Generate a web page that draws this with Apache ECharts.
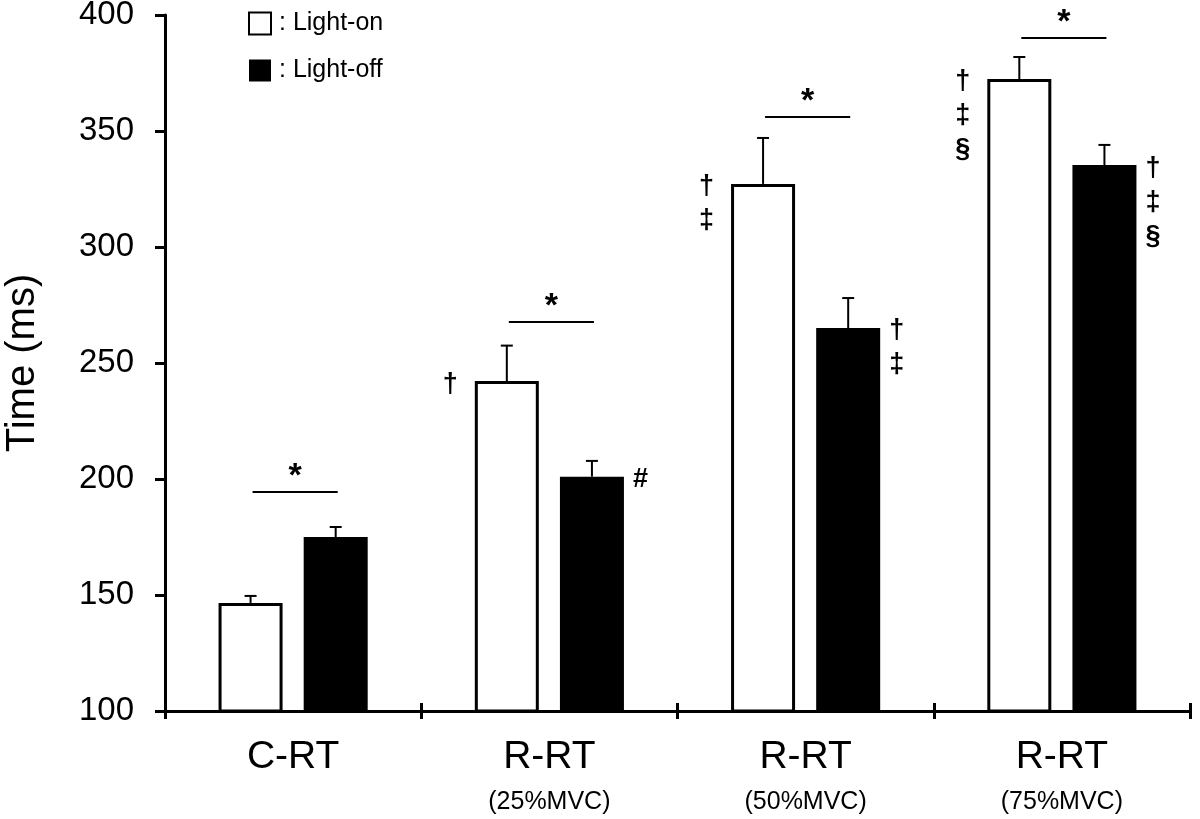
<!DOCTYPE html>
<html>
<head>
<meta charset="utf-8">
<script src="https://cdn.jsdelivr.net/npm/echarts@6/dist/echarts.min.js"></script>
<style>html,body{margin:0;padding:0;background:#fff;}#c{width:1200px;height:819px;}</style>
</head>
<body>
<div id="c"></div>
<script>
// ---- data ----
const categories = ['C-RT', 'R-RT\n(25%MVC)', 'R-RT\n(50%MVC)', 'R-RT\n(75%MVC)'];
const seriesNames = ['Light-on', 'Light-off'];
const lightOn = [146.6, 242.2, 327.2, 372.4];
const lightOnErr = [3.0, 15.3, 19.8, 9.5];
const lightOff = [175.0, 201.0, 265.1, 335.3];
const lightOffErr = [4.3, 6.8, 12.9, 8.7];
const sigLevel = [194.4, 267.7, 356.0, 390.1];
const sigText = ['*', '*', '*', '*'];
// marks: [categoryIndex, seriesIndex(0=on,1=off), text]
const marks = [
  [1, 0, '†'],
  [1, 1, '#'],
  [2, 0, '†\n‡'],
  [2, 1, '†\n‡'],
  [3, 0, '†\n‡\n§'],
  [3, 1, '†\n‡\n§']
];
const yTicks = [100, 150, 200, 250, 300, 350, 400];

// ---- layout ----
const FONT = '"Liberation Sans", Arial, sans-serif';
const BAR_W = 64, BAR_GAP = 0.33;
const OFF = BAR_W * (1 + BAR_GAP) / 2;

const chart = echarts.init(document.getElementById('c'));

const errData = [];
lightOn.forEach((v, i) => errData.push([i, v, lightOnErr[i], -1]));
lightOff.forEach((v, i) => errData.push([i, v, lightOffErr[i], 1]));

const markData = marks.map(m => {
  const v = m[1] === 0 ? lightOn[m[0]] : lightOff[m[0]];
  return [m[0], v, m[1]];
});

const option = {
  animation: false,
  backgroundColor: '#fff',
  textStyle: { fontFamily: FONT },
  grid: { left: 165, right: 10, top: 15, bottom: 108, containLabel: false, outerBoundsMode: 'none' },
  legend: {
    orient: 'vertical',
    left: 243, top: 6,
    itemWidth: 22, itemHeight: 22, itemGap: 22,
    formatter: ': {name}',
    textStyle: { fontSize: 25, color: '#000', fontFamily: FONT, padding: [0, 0, 0, 3] },
    selectedMode: false,
    data: [
      { name: 'Light-on', icon: 'rect', itemStyle: { color: '#fff', borderColor: '#000', borderWidth: 2 } },
      { name: 'Light-off', icon: 'rect', itemStyle: { color: '#000', borderColor: '#000', borderWidth: 0 } }
    ]
  },
  xAxis: [{
    type: 'category',
    data: categories,
    axisLine: { lineStyle: { color: '#000', width: 3 } },
    axisTick: { show: true, alignWithLabel: false, length: 8, lineStyle: { color: '#000', width: 3 } },
    axisLabel: {
      margin: 24,
      formatter: function (val) {
        const p = val.split('\n');
        return p.length > 1 ? '{a|' + p[0] + '}\n{b|' + p[1] + '}' : '{a|' + p[0] + '}';
      },
      rich: {
        a: { fontSize: 39, lineHeight: 44, color: '#000', fontFamily: FONT },
        b: { fontSize: 25, lineHeight: 46, color: '#000', fontFamily: FONT }
      }
    },
    splitLine: { show: false }
  }, {
    type: 'category',
    data: categories,
    position: 'bottom',
    axisLine: { show: false },
    axisTick: { show: true, inside: true, alignWithLabel: false, length: 8, lineStyle: { color: '#000', width: 3 } },
    axisLabel: { show: false },
    splitLine: { show: false }
  }],
  yAxis: {
    type: 'value',
    min: 100, max: 400, interval: 50,
    name: 'Time (ms)',
    nameLocation: 'middle',
    nameGap: 122,
    nameTextStyle: { fontSize: 40, color: '#000', fontFamily: FONT },
    axisLine: { show: true, lineStyle: { color: '#000', width: 3 } },
    axisTick: { show: true, length: 10, lineStyle: { color: '#000', width: 3 } },
    axisLabel: { fontSize: 33, color: '#000', margin: 31, fontFamily: FONT,
      formatter: v => yTicks.includes(v) ? String(v) : '' },
    splitLine: { show: false }
  },
  series: [
    {
      name: seriesNames[0], type: 'bar', data: lightOn,
      barWidth: BAR_W, barGap: (BAR_GAP * 100) + '%',
      itemStyle: { color: '#fff', borderColor: '#000', borderWidth: 3 }
    },
    {
      name: seriesNames[1], type: 'bar', data: lightOff,
      barWidth: BAR_W, barGap: (BAR_GAP * 100) + '%',
      itemStyle: { color: '#000', borderColor: '#000', borderWidth: 3 }
    },
    {
      type: 'custom', name: 'err', data: errData, z: 3,
      renderItem: function (params, api) {
        const b = api.coord([api.value(0), api.value(1)]);
        const t = api.coord([api.value(0), api.value(1) + api.value(2)]);
        const x = b[0] + api.value(3) * OFF;
        return { type: 'group', children: [
          { type: 'line', shape: { x1: x, y1: b[1], x2: x, y2: t[1] }, style: { stroke: '#000', lineWidth: 2 } },
          { type: 'line', shape: { x1: x - 6, y1: t[1], x2: x + 6, y2: t[1] }, style: { stroke: '#000', lineWidth: 2 } }
        ] };
      }
    },
    {
      type: 'custom', name: 'sig', z: 3,
      data: sigLevel.map((v, i) => [i, v]),
      renderItem: function (params, api) {
        const p = api.coord([api.value(0), api.value(1)]);
        const x1 = p[0] - OFF + 2, x2 = p[0] + OFF + 2;
        return { type: 'group', children: [
          { type: 'line', shape: { x1: x1, y1: p[1], x2: x2, y2: p[1] }, style: { stroke: '#000', lineWidth: 2 } },
          { type: 'text', style: { text: sigText[params.dataIndex], x: (x1 + x2) / 2, y: p[1] + 2,
            fontSize: 34, fontWeight: 'bold', fontFamily: FONT, fill: '#000', align: 'center', verticalAlign: 'bottom' } }
        ] };
      }
    },
    {
      type: 'custom', name: 'marks', z: 3,
      data: markData,
      renderItem: function (params, api) {
        const p = api.coord([api.value(0), api.value(1)]);
        const s = api.value(2);
        const outer = BAR_W / 2 + 1.5;
        const x = s === 0 ? p[0] - OFF - outer - 23 : p[0] + OFF + outer + 15;
        return { type: 'text', style: { text: marks[params.dataIndex][2], x: x, y: p[1] - 14,
          fontSize: 27, fontWeight: 'bold', lineHeight: 34, fontFamily: FONT, fill: '#000', align: 'center', verticalAlign: 'top' } };
      }
    }
  ]
};
chart.setOption(option);
</script>
</body>
</html>
